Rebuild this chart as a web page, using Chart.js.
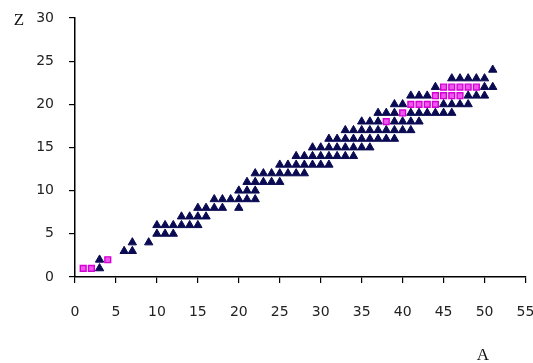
<!DOCTYPE html>
<html>
<head>
<meta charset="utf-8">
<script src="https://cdn.jsdelivr.net/npm/chart.js@4.4.0/dist/chart.umd.min.js"></script>
<style>
  html, body { margin: 0; padding: 0; background: #ffffff; }
  #wrap { width: 533px; height: 363px; }
</style>
</head>
<body>
<div id="wrap"><canvas id="c" width="533" height="363"></canvas></div>
<script>
// Tick labels
const xTicks = [0, 5, 10, 15, 20, 25, 30, 35, 40, 45, 50, 55];
const yTicks = [0, 5, 10, 15, 20, 25, 30];
const xTitle = "A";
const yTitle = "Z";

// Triangles (A, Z)
const triA = [
  3,
  3,
  6, 7,
  7, 9,
  10, 11, 12,
  10, 11, 12, 13, 14, 15,
  13, 14, 15, 16,
  15, 16, 17, 18, 20,
  17, 18, 19, 20, 21, 22,
  20, 21, 22,
  21, 22, 23, 24, 25,
  22, 23, 24, 25, 26, 27, 28,
  25, 26, 27, 28, 29, 30, 31,
  27, 28, 29, 30, 31, 32, 33, 34,
  29, 30, 31, 32, 33, 34, 35, 36,
  31, 32, 33, 34, 35, 36, 37, 38, 39,
  33, 34, 35, 36, 37, 38, 39, 40, 41,
  35, 36, 37, 39, 40, 41, 42,
  37, 38, 39, 41, 42, 43, 44, 45, 46,
  39, 40, 45, 46, 47, 48,
  41, 42, 43, 48, 49, 50,
  44, 50, 51,
  46, 47, 48, 49, 50,
  51
];
const triZ = [
  1,
  2,
  3, 3,
  4, 4,
  5, 5, 5,
  6, 6, 6, 6, 6, 6,
  7, 7, 7, 7,
  8, 8, 8, 8, 8,
  9, 9, 9, 9, 9, 9,
  10, 10, 10,
  11, 11, 11, 11, 11,
  12, 12, 12, 12, 12, 12, 12,
  13, 13, 13, 13, 13, 13, 13,
  14, 14, 14, 14, 14, 14, 14, 14,
  15, 15, 15, 15, 15, 15, 15, 15,
  16, 16, 16, 16, 16, 16, 16, 16, 16,
  17, 17, 17, 17, 17, 17, 17, 17, 17,
  18, 18, 18, 18, 18, 18, 18,
  19, 19, 19, 19, 19, 19, 19, 19, 19,
  20, 20, 20, 20, 20, 20,
  21, 21, 21, 21, 21, 21,
  22, 22, 22,
  23, 23, 23, 23, 23,
  24
];

// Pink squares (A, Z)
const sqA = [1, 2, 4, 38, 40, 41, 42, 43, 44, 44, 45, 46, 47, 45, 46, 47, 48, 49];
const sqZ = [1, 1, 2, 18, 19, 20, 20, 20, 20, 21, 21, 21, 21, 22, 22, 22, 22, 22];

const triPts = triA.map((a, i) => ({ x: a, y: triZ[i] }));
const sqPts = sqA.map((a, i) => ({ x: a, y: sqZ[i] }));

const textPlugin = {
  id: 'axisLetters',
  afterDraw(chart) {
    const ctx = chart.ctx;
    ctx.save();
    ctx.fillStyle = '#111';
    ctx.font = '17px "Liberation Serif", "DejaVu Serif", serif';
    ctx.textAlign = 'center';
    ctx.textBaseline = 'middle';
    ctx.fillText(yTitle, 19, 21);
    ctx.fillText(xTitle, 483, 356);
    ctx.restore();
  }
};

const tickFont = { family: '"DejaVu Sans", Verdana, sans-serif', size: 14 };

new Chart(document.getElementById('c'), {
  type: 'scatter',
  data: {
    datasets: [
      {
        data: triPts,
        pointStyle: 'triangle',
        pointRadius: 4.8,
        backgroundColor: '#0a0a52',
        borderColor: '#0a0a52',
        borderWidth: 1
      },
      {
        data: sqPts,
        pointStyle: 'rect',
        pointRadius: 4.1,
        backgroundColor: '#f055f0',
        borderColor: '#d400d4',
        borderWidth: 1.4
      }
    ]
  },
  options: {
    responsive: false,
    animation: false,
    events: [],
    layout: { padding: { top: 18, right: 7.5, left: 0, bottom: 0 } },
    plugins: { legend: { display: false }, tooltip: { enabled: false } },
    scales: {
      x: {
        type: 'linear',
        min: 0, max: 55,
        afterBuildTicks(s) { s.ticks = xTicks.map(v => ({ value: v })); },
        afterFit(s) { s.height = 86; s.paddingLeft = 0; s.paddingRight = 0; },
        ticks: { color: '#222', font: tickFont, padding: 21, maxRotation: 0, autoSkip: false },
        grid: { drawOnChartArea: false, drawTicks: true, tickLength: 6, color: '#000', lineWidth: 1.2 },
        border: { display: true, color: '#000', width: 1.5 }
      },
      y: {
        type: 'linear',
        min: 0, max: 30,
        afterBuildTicks(s) { s.ticks = yTicks.map(v => ({ value: v })); },
        afterFit(s) { s.width = 75; s.paddingTop = 0; s.paddingBottom = 0; },
        ticks: { color: '#222', font: tickFont, padding: 15, autoSkip: false },
        grid: { drawOnChartArea: false, drawTicks: true, tickLength: 6, color: '#000', lineWidth: 1.2 },
        border: { display: true, color: '#000', width: 1.5 }
      }
    }
  },
  plugins: [textPlugin]
});
</script>
</body>
</html>
